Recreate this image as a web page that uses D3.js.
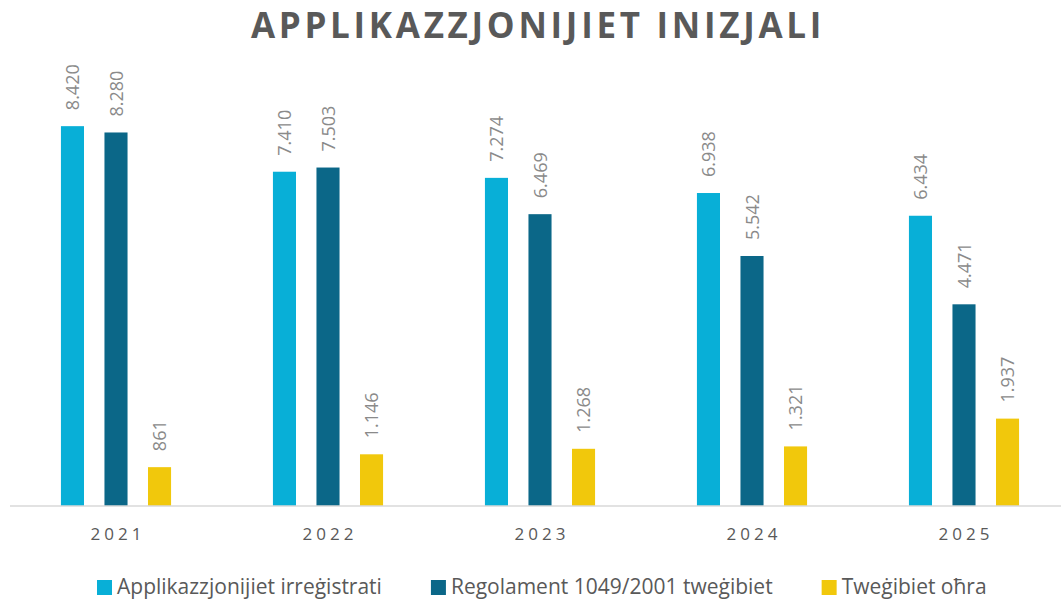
<!DOCTYPE html>
<html>
<head>
<meta charset="utf-8">
<script src="https://cdn.jsdelivr.net/npm/d3@7"></script>
<style>
  body { margin: 0; background: #fff; }
  text { font-family: "Open Sans", "Noto Sans", sans-serif; }
</style>
</head>
<body>
<div id="chart"></div>
<script>
// data
var years = ["2021", "2022", "2023", "2024", "2025"]
var seriesNames = ["Applikazzjonijiet irreġistrati", "Regolament 1049/2001 tweġibiet", "Tweġibiet oħra"]
var registered = [8420, 7410, 7274, 6938, 6434]
var regulation = [8280, 7503, 6469, 5542, 4471]
var otherReplies = [861, 1146, 1268, 1321, 1937]
var seriesColors = ["#08afd7", "#0b6788", "#f1c80c"]

var width = 1061, height = 600
var svg = d3.select("#chart").append("svg")
    .attr("width", width).attr("height", height)

// title
svg.append("text")
    .attr("x", 538).attr("y", 38)
    .attr("text-anchor", "middle")
    .style("font-size", "35px").style("font-weight", "bold")
    .style("letter-spacing", "3.7px")
    .style("fill", "#595959")
    .text("APPLIKAZZJONIJIET INIZJALI")

var allSeries = [registered, regulation, otherReplies]
var data = []
years.forEach(function(yr, i){
    allSeries.forEach(function(s, j){
        data.push({year: yr, series: seriesNames[j], value: s[i], idx: j})
    })
})

var x0 = d3.scaleBand().domain(years).range([10, 1070])
var x1 = d3.scaleBand().domain(seriesNames).range([0, x0.bandwidth()])
    .paddingInner(0.47).paddingOuter(1.17)
var y = d3.scaleLinear().domain([0, 9000]).range([506, 100])

var fmt = d3.formatLocale({decimal: ",", thousands: ".", grouping: [3], currency: ["", ""]}).format(",")

// bars
svg.selectAll(".bar")
    .data(data).enter()
    .append("rect").attr("class", "bar")
    .attr("x", function(d){ return x0(d.year) + x1(d.series) })
    .attr("y", function(d){ return y(d.value) })
    .attr("width", x1.bandwidth())
    .attr("height", function(d){ return y(0) - y(d.value) })
    .style("fill", function(d){ return seriesColors[d.idx] })

// value labels (rotated)
svg.selectAll(".lbl")
    .data(data).enter()
    .append("text").attr("class", "lbl")
    .attr("transform", function(d){
        var cx = x0(d.year) + x1(d.series) + x1.bandwidth() / 2 + 2
        return "translate(" + cx + "," + (y(d.value) - 16) + ") rotate(-90)"
    })
    .attr("dominant-baseline", "middle")
    .style("font-size", "18px")
    .style("fill", "#8a8a8a")
    .text(function(d){ return fmt(d.value) })

// axis
var axis = svg.append("g")
    .attr("transform", "translate(0,506)")
    .call(d3.axisBottom(x0).tickSize(0).tickPadding(22))
axis.select(".domain").attr("d", "M10,0H1061").style("stroke", "#d9d9d9").style("stroke-width", 1.5)
axis.selectAll("text")
    .style("font-size", "17px").style("letter-spacing", "4px")
    .style("font-family", "'Open Sans', sans-serif")
    .style("fill", "#595959")
    .attr("dx", "2px")

// legend
var legend = svg.append("g")
var lx = 0
seriesNames.forEach(function(name, i){
    var g = legend.append("g").attr("transform", "translate(" + lx + ",0)")
    g.append("rect").attr("x", 0).attr("y", -8).attr("width", 15).attr("height", 15)
        .style("fill", seriesColors[i])
    var t = g.append("text").attr("x", 20).attr("y", 0)
        .attr("dominant-baseline", "middle")
        .style("font-size", "21px").style("fill", "#595959")
        .text(name)
    lx += 20 + t.node().getComputedTextLength() + 49
})
legend.attr("transform", "translate(97,588)")
</script>
</body>
</html>
